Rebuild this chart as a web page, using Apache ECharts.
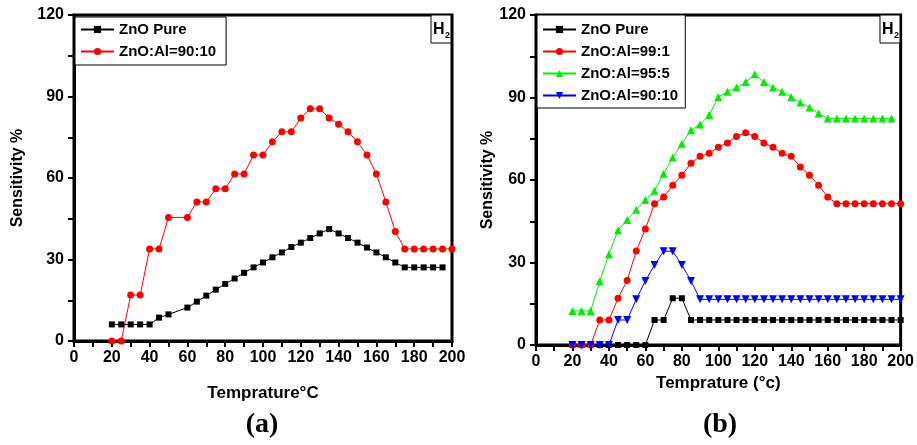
<!DOCTYPE html>
<html><head><meta charset="utf-8">
<script src="https://cdn.jsdelivr.net/npm/echarts@6/dist/echarts.min.js"></script>
<style>html,body{margin:0;padding:0;background:#fff}#c{width:917px;height:445px}</style>
</head><body><div id="c"></div>
<script>
// ---- Panel (a) data ----
const tempA = [20,25,30,35,40,45,50,60,65,70,75,80,85,90,95,100,105,110,115,120,125,130,135,140,145,150,155,160,165,170,175,180,185,190,195,200];
const sensA_pure = [6.1,6.1,6.1,6.1,6.1,8.6,9.8,12.3,14.5,16.7,18.9,21.0,23.0,25.1,27.1,28.9,30.8,32.6,34.6,36.2,37.9,39.6,41.2,39.6,37.9,36.2,34.4,32.6,30.8,28.9,27.1,27.1,27.1,27.1,27.1];
const sensA_9010 = [0,0,16.9,16.9,33.9,33.9,45.5,45.5,51.2,51.2,56.0,56.0,61.5,61.5,68.5,68.5,73.3,77.0,77.0,82.1,85.5,85.5,82.1,79.8,77.0,73.3,68.5,61.5,51.2,40.3,33.9,33.9,33.9,33.9,33.9,33.9];
// ---- Panel (b) data ----
const tempB = [20,25,30,35,40,45,50,55,60,65,70,75,80,85,90,95,100,105,110,115,120,125,130,135,140,145,150,155,160,165,170,175,180,185,190,195,200];
const sensB_pure = [0,0,0,0,0,0,0,0,0,9.1,9.1,17.0,17.0,9.1,9.1,9.1,9.1,9.1,9.1,9.1,9.1,9.1,9.1,9.1,9.1,9.1,9.1,9.1,9.1,9.1,9.1,9.1,9.1,9.1,9.1,9.1,9.1];
const sensB_991 = [0,0,0,9.1,9.1,17.0,23.5,34.2,42.2,51.4,53.8,58.1,61.7,66.1,68.6,69.7,71.9,73.5,75.8,77.2,75.8,73.5,71.9,69.7,68.6,64.7,61.7,58.1,53.8,51.4,51.4,51.4,51.4,51.4,51.4,51.4,51.4];
const sensB_955 = [12.4,12.4,12.4,23.3,33.0,41.7,45.5,49.2,52.7,56.1,62.3,68.2,73.2,78.1,80.2,83.6,90.2,92.1,93.6,95.6,98.5,95.6,93.6,92.1,90.2,88.2,86.4,84.2,82.4,82.4,82.4,82.4,82.4,82.4,82.4,82.4];
const sensB_9010 = [0,0,0,0,0,9.1,9.1,16.6,23.3,29.1,34.1,34.1,29.1,23.3,16.6,16.6,16.6,16.6,16.6,16.6,16.6,16.6,16.6,16.6,16.6,16.6,16.6,16.6,16.6,16.6,16.6,16.6,16.6,16.6,16.6,16.6,16.6];
const xTicks = {min:0, max:200, interval:20};
const yTicks = {min:0, max:120, interval:30};
const xNameA = 'Temprature°C', xNameB = 'Temprature (°c)', yName = 'Sensitivity %';

function pairs(xs, ys){ return ys.map((v,i)=>[xs[i], v]); }

const tickFont = {fontFamily:"'Liberation Sans Narrow','Arial Narrow','Liberation Sans',Arial,sans-serif", fontWeight:'bold', fontSize:16, color:'#000'};
function xAx(gi, name, gap){
  return {type:'value', gridIndex:gi, min:xTicks.min, max:xTicks.max, interval:xTicks.interval,
    name:name, nameLocation:'middle', nameGap:gap,
    nameTextStyle:{fontFamily:"'Liberation Sans Narrow','Arial Narrow','Liberation Sans',Arial,sans-serif", fontWeight:'bold', fontSize:17, color:'#000'},
    axisLine:{show:true, onZero:false, lineStyle:{color:'#000', width:3}},
    axisTick:{show:true, length:6, lineStyle:{color:'#000', width:2}},
    minorTick:{show:true, splitNumber:2, length:6, lineStyle:{color:'#000', width:2}},
    axisLabel:Object.assign({margin:9}, tickFont), splitLine:{show:false}};
}
function yAx(gi, gap){
  return {type:'value', gridIndex:gi, min:yTicks.min, max:yTicks.max, interval:yTicks.interval,
    name:yName, nameLocation:'middle', nameGap:gap, nameRotate:90,
    nameTextStyle:{fontFamily:"'Liberation Sans',Arial,sans-serif", fontWeight:'bold', fontSize:16, color:'#000'},
    axisLine:{show:true, onZero:false, lineStyle:{color:'#000', width:3}},
    axisTick:{show:true, length:6, lineStyle:{color:'#000', width:2}},
    minorTick:{show:true, splitNumber:2, length:6, lineStyle:{color:'#000', width:2}},
    axisLabel:Object.assign({margin:10}, tickFont), splitLine:{show:false}};
}
function ser(name, gi, xs, ys, color, symbol, size, rot){
  return {name:name, type:'line', xAxisIndex:gi, yAxisIndex:gi, data:pairs(xs, ys),
    symbol:symbol, symbolSize:size, symbolRotate:rot||0, showAllSymbol:true,
    lineStyle:{color:color, width:1}, itemStyle:{color:color}, animation:false, clip:false};
}
const legendText = {fontFamily:"'Liberation Sans',Arial,sans-serif", fontWeight:'bold', fontSize:15, color:'#000', lineHeight:14};
function h2Box(x, y){
  return {type:'group', x:x, y:y, children:[
    {type:'rect', shape:{x:0,y:0,width:20,height:28}, style:{fill:'#fff', stroke:'#000', lineWidth:1}},
    {type:'text', x:2, y:7, style:{text:'H', fontFamily:'Liberation Sans, Arial', fontWeight:'bold', fontSize:16, fill:'#000'}},
    {type:'text', x:14, y:16, style:{text:'2', fontFamily:'Liberation Sans, Arial', fontWeight:'bold', fontSize:9, fill:'#000'}}
  ]};
}
const option = {
  backgroundColor:'#fff', animation:false,
  grid:[
    {left:74, right:465, top:15, bottom:104, show:true, borderColor:'#000', borderWidth:3, backgroundColor:'transparent'},
    {left:536, right:13, top:15, bottom:100, show:true, borderColor:'#000', borderWidth:3, backgroundColor:'transparent'}
  ],
  xAxis:[xAx(0, xNameA, 44), xAx(1, xNameB, 27)],
  yAxis:[yAx(0, 48), yAx(1, 30)],
  legend:[
    {data:['ZnO Pure','ZnO:Al=90:10'], orient:'vertical', left:75, top:17, padding:[5,10,6,5], itemWidth:33, itemHeight:9, itemGap:7,
     borderColor:'#000', borderWidth:1, backgroundColor:'#fff', textStyle:legendText, selectedMode:false},
    {data:['ZnO Pure ','ZnO:Al=99:1','ZnO:Al=95:5','ZnO:Al=90:10 '], orient:'vertical', left:537, top:15, padding:[7,3,5,5], itemWidth:33, itemHeight:9, itemGap:7,
     borderColor:'#000', borderWidth:1, backgroundColor:'#fff', textStyle:legendText, selectedMode:false}
  ],
  series:[
    ser('ZnO Pure', 0, tempA.filter(t=>t<=195), sensA_pure, '#000', 'rect', 6),
    ser('ZnO:Al=90:10', 0, tempA, sensA_9010, '#ff0000', 'circle', 7),
    ser('ZnO Pure ', 1, tempB, sensB_pure, '#000', 'rect', 6),
    ser('ZnO:Al=99:1', 1, tempB, sensB_991, '#ff0000', 'circle', 7),
    ser('ZnO:Al=95:5', 1, tempB, sensB_955, '#00ee00', 'triangle', 8),
    ser('ZnO:Al=90:10 ', 1, tempB, sensB_9010, '#0000ff', 'triangle', 8, 180)
  ],
  graphic:[
    h2Box(431, 15), h2Box(880, 15),
    {type:'text', x:262, y:425, style:{text:'(a)', fontFamily:"'Liberation Serif','Times New Roman',serif", fontWeight:'bold', fontSize:28, fill:'#000', align:'center', verticalAlign:'middle'}},
    {type:'text', x:720, y:425, style:{text:'(b)', fontFamily:"'Liberation Serif','Times New Roman',serif", fontWeight:'bold', fontSize:28, fill:'#000', align:'center', verticalAlign:'middle'}}
  ]
};
const chart = echarts.init(document.getElementById('c'), null, {renderer:'canvas'});
chart.setOption(option);
</script></body></html>
